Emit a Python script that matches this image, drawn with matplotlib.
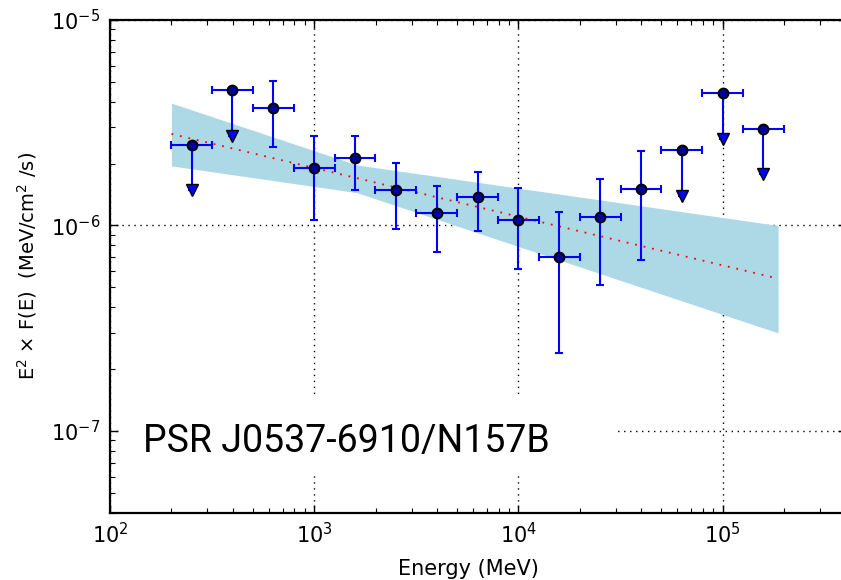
import numpy as np
import matplotlib
matplotlib.use("Agg")
import matplotlib.pyplot as plt
from matplotlib.patches import Rectangle

# spectral points (MeV, MeV/cm^2/s)
energy = np.array([251, 398, 631, 1000, 1585, 2512, 3981, 6310, 10000,
                   15849, 25119, 39811, 63096, 100000, 158489])
bin_edges = np.array([200, 316, 501, 794, 1259, 1995, 3162, 5012, 7943,
                      12589, 19953, 31623, 50119, 79433, 125893, 199526])
flux = np.array([2.47e-6, 4.55e-6, 3.74e-6, 1.905e-6, 2.12e-6, 1.49e-6,
                 1.153e-6, 1.38e-6, 1.067e-6, 7.05e-7, 1.10e-6, 1.50e-6,
                 2.32e-6, 4.41e-6, 2.96e-6])
flux_hi = np.array([np.nan, np.nan, 5.07e-6, 2.735e-6, 2.735e-6, 2.01e-6,
                    1.563e-6, 1.815e-6, 1.517e-6, 1.167e-6, 1.683e-6, 2.31e-6,
                    np.nan, np.nan, np.nan])
flux_lo = np.array([np.nan, np.nan, 2.42e-6, 1.064e-6, 1.493e-6, 9.58e-7,
                    7.41e-7, 9.40e-7, 6.14e-7, 2.40e-7, 5.15e-7, 6.79e-7,
                    np.nan, np.nan, np.nan])
is_ul = np.array([1, 1, 0, 0, 0, 0, 0, 0, 0, 0, 0, 0, 1, 1, 1], dtype=bool)

# butterfly and best-fit power law
band_e = np.array([200, 1620, 187000])
band_hi = np.array([3.94e-6, 1.97e-6, 1.0e-6])
band_lo = np.array([1.95e-6, 1.445e-6, 3.0e-7])
model_e = np.array([200, 185000])
model_f = np.array([2.79e-6, 5.53e-7])

ul_frac = 0.4  # arrow length as fraction of the limit

fig = plt.figure(figsize=(8.41, 5.80), dpi=100)
ax = fig.add_axes([0.1308, 0.1160, 0.8746, 0.8495])
ax.set_xscale("log")
ax.set_yscale("log")
ax.set_xlim(100, 4e5)
ax.set_ylim(4e-8, 1e-5)
ax.set_axisbelow(True)

ax.fill_between(band_e, band_lo, band_hi, color="lightblue", lw=0, zorder=1)
ax.plot(model_e, model_f, color="red", lw=1.3, ls=(0, (1, 3.8)), zorder=2)

xlo = energy - bin_edges[:-1]
xhi = bin_edges[1:] - energy
det = ~is_ul
style = dict(fmt="o", color="blue", mfc="#0000a0", mec="black", mew=1.5,
             ms=7, elinewidth=1.5, capsize=3, capthick=1.5, zorder=3)
ax.errorbar(energy[det], flux[det],
            xerr=[xlo[det], xhi[det]],
            yerr=[flux[det] - flux_lo[det], flux_hi[det] - flux[det]], **style)
ax.errorbar(energy[is_ul], flux[is_ul],
            xerr=[xlo[is_ul], xhi[is_ul]],
            yerr=[ul_frac * flux[is_ul], 0 * flux[is_ul]], **style)
ax.plot(energy[is_ul], (1 - ul_frac) * flux[is_ul], "v", color="blue",
        mec="black", mew=1, ms=8.5, zorder=4)

ax.grid(True, which="major", color="black", lw=1, ls=(0, (1, 3.3)))

# white box behind the source name hides the grid
ax.add_patch(Rectangle((0.012, 0.0765), 0.677, 0.1624, transform=ax.transAxes,
                       facecolor="white", edgecolor="none", zorder=1.5))
ax.text(0.0449, 0.1232, "PSR J0537-6910/N157B", transform=ax.transAxes,
        fontsize=27, family=["Roboto", "DejaVu Sans"],
        va="baseline", zorder=5)

for s in ax.spines.values():
    s.set_linewidth(1.6)
ax.tick_params(which="both", direction="in", top=True, right=True)
ax.tick_params(which="major", length=6, width=1, labelsize=15, pad=7)
ax.tick_params(which="minor", length=3.5, width=0.8)

ax.set_xlabel("Energy (MeV)", fontsize=15)
ax.xaxis.set_label_coords(0.487, -0.094)
ax.set_ylabel(r"E$^2$ $\times$ F(E)  (MeV/cm$^2$ /s)", fontsize=14)
ax.yaxis.set_label_coords(-0.097, 0.5)

fig.savefig("out.png", dpi=100)
